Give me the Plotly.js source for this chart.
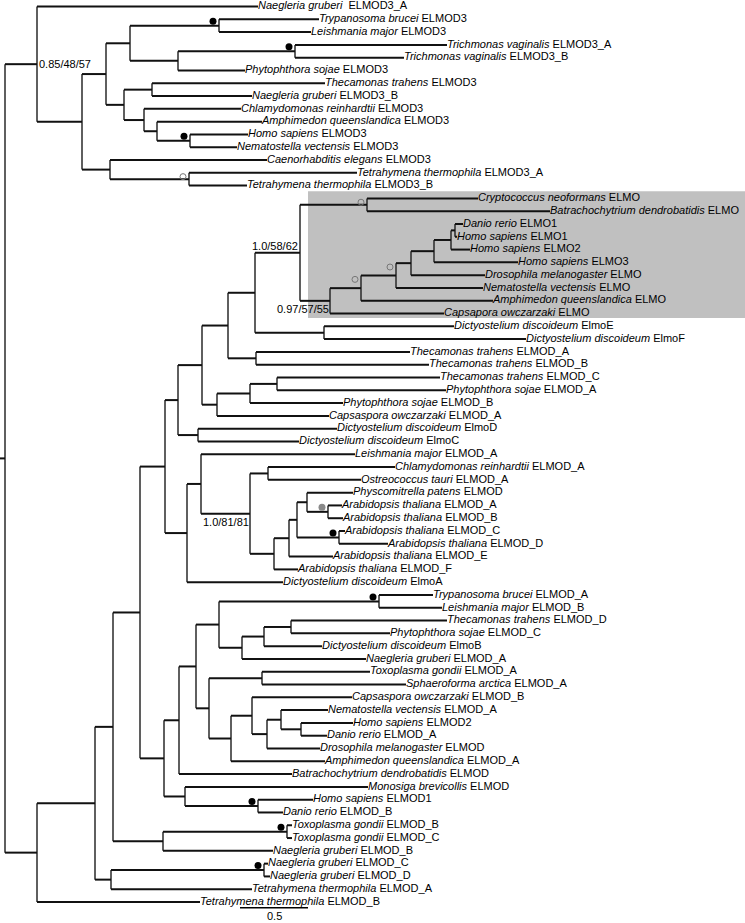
<!DOCTYPE html>
<html>
<head>
<meta charset="utf-8">
<script src="https://cdn.plot.ly/plotly-3.0.1.min.js"></script>
<style>html,body{margin:0;padding:0;background:#fff}#chart{width:745px;height:923px}</style>
</head>
<body>
<div id="chart"></div>
<script>
// ---- Leaves (top to bottom) ----
const leafGenus = [
 "Naegleria gruberi","Trypanosoma brucei","Leishmania major","Trichmonas vaginalis","Trichmonas vaginalis",
 "Phytophthora sojae","Thecamonas trahens","Naegleria gruberi","Chlamydomonas reinhardtii","Amphimedon queenslandica",
 "Homo sapiens","Nematostella vectensis","Caenorhabditis elegans","Tetrahymena thermophila","Tetrahymena thermophila",
 "Cryptococcus neoformans","Batrachochytrium dendrobatidis","Danio rerio","Homo sapiens","Homo sapiens",
 "Homo sapiens","Drosophila melanogaster","Nematostella vectensis","Amphimedon queenslandica","Capsapora owczarzaki",
 "Dictyostelium discoideum","Dictyostelium discoideum","Thecamonas trahens","Thecamonas trahens","Thecamonas trahens",
 "Phytophthora sojae","Phytophthora sojae","Capsaspora owczarzaki","Dictyostelium discoideum","Dictyostelium discoideum",
 "Leishmania major","Chlamydomonas reinhardtii","Ostreococcus tauri","Physcomitrella patens","Arabidopsis thaliana",
 "Arabidopsis thaliana","Arabidopsis thaliana","Arabidopsis thaliana","Arabidopsis thaliana","Arabidopsis thaliana",
 "Dictyostelium discoideum","Trypanosoma brucei","Leishmania major","Thecamonas trahens","Phytophthora sojae",
 "Dictyostelium discoideum","Naegleria gruberi","Toxoplasma gondii","Sphaeroforma arctica","Capsaspora owczarzaki",
 "Nematostella vectensis","Homo sapiens","Danio rerio","Drosophila melanogaster","Amphimedon queenslandica",
 "Batrachochytrium dendrobatidis","Monosiga brevicollis","Homo sapiens","Danio rerio","Toxoplasma gondii",
 "Toxoplasma gondii","Naegleria gruberi","Naegleria gruberi","Naegleria gruberi","Tetrahymena thermophila",
 "Tetrahymena thermophila"
];
const leafGene = [
 "\u00a0ELMOD3_A","ELMOD3","ELMOD3","ELMOD3_A","ELMOD3_B",
 "ELMOD3","ELMOD3","ELMOD3_B","ELMOD3","ELMOD3",
 "ELMOD3","ELMOD3","ELMOD3","ELMOD3_A","ELMOD3_B",
 "ELMO","ELMO","ELMO1","ELMO1","ELMO2",
 "ELMO3","ELMO","ELMO","ELMO","ELMO",
 "ElmoE","ElmoF","ELMOD_A","ELMOD_B","ELMOD_C",
 "ELMOD_A","ELMOD_B","ELMOD_A","ElmoD","ElmoC",
 "ELMOD_A","ELMOD_A","ELMOD_A","ELMOD","ELMOD_A",
 "ELMOD_B","ELMOD_C","ELMOD_D","ELMOD_E","ELMOD_F",
 "ElmoA","ELMOD_A","ELMOD_B","ELMOD_D","ELMOD_C",
 "ElmoB","ELMOD_A","ELMOD_A","ELMOD_A","ELMOD_B",
 "ELMOD_A","ELMOD2","ELMOD_A","ELMOD","ELMOD_A",
 "ELMOD","ELMOD","ELMOD1","ELMOD_B","ELMOD_B",
 "ELMOD_C","ELMOD_B","ELMOD_C","ELMOD_D","ELMOD_A",
 "ELMOD_B"
];
// tip depth (reference pixels from left edge)
const leafTipX = [
 258,319,311,447,404, 245,325,252,241,262, 248,237,267,357,247,
 478,550,463,457,470, 518,485,483,493,444, 454,526,410,429,440,
 446,343,329,337,299, 355,395,361,353,342, 343,345,388,333,298,
 283,433,442,447,390, 322,366,370,406,352, 328,353,327,320,325,
 292,368,313,283,292, 292,273,268,270,252, 200
];
const leafParent = [
 1,5,5,7,7, 6,9,9,10,11, 12,12,13,14,14,
 25,25,32,32,31, 30,29,28,27,26, 33,33,34,34,37,
 37,36,35,38,38, 40,42,42,46,47, 47,48,48,44,43,
 39,53,53,56,56, 55,54,58,58,60, 62,63,63,61,59,
 50,64,65,65,67, 67,66,69,69,68, 15
];
// ---- Internal nodes ----
const nodeX = [
 5,37,82,106,130, 219,178,295,124,152, 144,157,190,110,189,
 37,95,113,140,165, 178,202,228,255,300, 367,330,361,396,411,
 434,451,455,324,256, 217,250,277,198,187, 201,250,268,274,289,
 297,307,328,339,164, 179,196,219,379,242, 264,291,209,262,231,
 252,267,281,301,185, 258,163,287,111,264
];
const nodeParent = [
 -1,0,1,2,3, 4,4,6,3,8, 8,10,11,2,13,
 0,15,16,17,18, 19,20,21,22,23, 24,24,26,27,28,
 29,30,31,23,22, 21,35,36,20,19, 39,40,41,41,43,
 44,45,46,45,18, 49,50,51,52,52, 54,55,51,57,57,
 59,60,61,62,49, 64,17,66,16,68
];
// ---- Support values ----
const supportText = ["0.85/48/57","1.0/58/62","0.97/57/55","1.0/81/81"];
const supportNode = [1,24,26,41];
const supportPlace = ["right","above","below","below"];
const dotBlackNodes = [5,7,12,48,53,65,67,69];
const dotGrayNodes = [47];
const dotOpenNodes = [14,25,28,27];
const highlightNode = 24;       // shaded ELMO clade
const scaleValue = 0.5;
const pxPerUnit = 136;
const scaleStartX = 240;
const rootStemX = 0;

// ---- compute node y positions ----
const N = nodeX.length;
const kids = Array.from({length:N}, () => []);
leafParent.forEach((p,i) => kids[p].push({leaf:true, i}));
nodeParent.forEach((p,i) => { if (p >= 0) kids[p].push({leaf:false, i}); });
const nodeY = new Array(N), nodeTop = new Array(N), nodeBot = new Array(N);
for (let k = N-1; k >= 0; k--) {
  const ys = kids[k].map(c => c.leaf ? c.i : nodeY[c.i]);
  nodeTop[k] = Math.min(...ys); nodeBot[k] = Math.max(...ys);
  nodeY[k] = (nodeTop[k] + nodeBot[k]) / 2;
}
function leavesUnder(k, acc) {
  kids[k].forEach(c => { if (c.leaf) acc.push(c.i); else leavesUnder(c.i, acc); });
  return acc;
}

// ---- branch segments ----
const hx = [], hy = [], vx = [], vy = [];
leafTipX.forEach((tx, i) => { hx.push(nodeX[leafParent[i]], tx, null); hy.push(i, i, null); });
nodeParent.forEach((p, k) => {
  if (p >= 0) { hx.push(nodeX[p], nodeX[k], null); hy.push(nodeY[k], nodeY[k], null); }
  vx.push(nodeX[k], nodeX[k], null); vy.push(nodeTop[k], nodeBot[k], null);
});
hx.push(rootStemX, nodeX[0], null); hy.push(nodeY[0], nodeY[0], null);

const traces = [
  {x: vx, y: vy, mode: 'lines', line: {color: '#2a2a2a', width: 1.5}, hoverinfo: 'skip', showlegend: false},
  {x: hx, y: hy, mode: 'lines', line: {color: '#111', width: 2}, hoverinfo: 'skip', showlegend: false},
  {x: leafTipX, y: leafTipX.map((_, i) => i), mode: 'text', cliponaxis: false,
   text: leafGenus.map((g, i) => '<i>' + g + '</i> ' + leafGene[i]),
   textposition: 'middle right', textfont: {family: 'Liberation Sans, Arial, sans-serif', size: 11, color: '#000'},
   hoverinfo: 'skip', showlegend: false},
  {x: dotBlackNodes.map(k => nodeX[k] - 6), y: dotBlackNodes.map(k => nodeTop[k] + 0.15), mode: 'markers',
   marker: {color: '#000', size: 7}, hoverinfo: 'skip', showlegend: false, cliponaxis: false},
  {x: dotGrayNodes.map(k => nodeX[k] - 6), y: dotGrayNodes.map(k => nodeTop[k] + 0.15), mode: 'markers',
   marker: {color: '#8a8a8a', size: 7}, hoverinfo: 'skip', showlegend: false},
  {x: dotOpenNodes.map(k => nodeX[k] - 6), y: dotOpenNodes.map(k => nodeTop[k] + 0.3), mode: 'markers',
   marker: {symbol: 'circle-open', color: '#777', size: 6, line: {width: 1, color: '#777'}}, hoverinfo: 'skip', showlegend: false},
  {x: [scaleStartX, scaleStartX + scaleValue * pxPerUnit], y: [70.45, 70.45], mode: 'lines',
   line: {color: '#000', width: 1.5}, hoverinfo: 'skip', showlegend: false}
];

const font = {family: 'Liberation Sans, Arial, sans-serif', size: 11, color: '#000'};
const annotations = supportText.map((t, j) => {
  const k = supportNode[j];
  const a = {x: nodeX[k], y: nodeY[k], text: t, showarrow: false, font: font, borderpad: 0};
  if (supportPlace[j] === 'right') { a.xanchor = 'left'; a.yanchor = 'middle'; a.xshift = 1; }
  else if (supportPlace[j] === 'above') { a.xanchor = 'right'; a.yanchor = 'bottom'; a.xshift = -1; a.yshift = 0; }
  else { a.xanchor = 'right'; a.yanchor = 'top'; a.xshift = 0; a.yshift = -1; }
  return a;
});
annotations.push({x: scaleStartX + scaleValue * pxPerUnit / 2, y: 70.45, text: String(scaleValue), showarrow: false,
  font: font, xanchor: 'center', yanchor: 'top', yshift: -1, borderpad: 0});

const hl = leavesUnder(highlightNode, []);
const shapes = [{type: 'rect', layer: 'below', xref: 'x', yref: 'y',
  x0: nodeX[highlightNode] + 8, x1: 745, y0: Math.min(...hl) - 0.55, y1: Math.max(...hl) + 0.35,
  fillcolor: '#c0c0c0', line: {width: 0}}];

const layout = {
  width: 745, height: 923, margin: {l: 0, r: 0, t: 0, b: 0},
  paper_bgcolor: '#fff', plot_bgcolor: '#fff',
  xaxis: {range: [0, 745], visible: false, fixedrange: true},
  yaxis: {range: [71.64, -0.508], visible: false, fixedrange: true},
  shapes: shapes, annotations: annotations, showlegend: false
};
Plotly.newPlot('chart', traces, layout, {staticPlot: true});
</script>
</body>
</html>
